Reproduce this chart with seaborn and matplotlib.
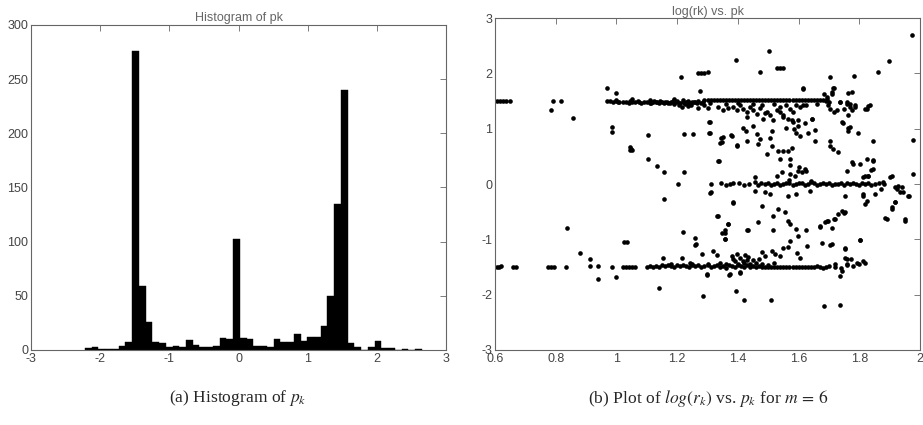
import numpy as np
import pandas as pd
import seaborn as sns
import matplotlib.pyplot as plt
from matplotlib.ticker import FuncFormatter

# ---- histogram of pk (50 bins) ----
hist_lo, hist_hi, n_bins = -2.22, 2.65, 50
hist_counts = [2, 3, 1, 1, 1, 4, 7, 276, 59, 26,
               7, 6, 3, 4, 3, 9, 5, 3, 3, 4,
               11, 10, 102, 11, 10, 4, 4, 3, 10, 7,
               7, 15, 8, 12, 12, 22, 50, 135, 240, 6,
               3, 0, 3, 8, 2, 2, 0, 1, 0, 1]

# ---- log(rk) vs pk ----
# upper band near 1.5
hi_band_x = [0.97, 0.98, 0.99, 1.00, 1.01, 1.02, 1.03, 1.04, 1.05, 1.06, 1.07, 1.08,
             1.09, 1.10, 1.11, 1.12, 1.13, 1.14, 1.15, 1.16, 1.17, 1.18, 1.19, 1.20,
             1.21, 1.22, 1.23, 1.24, 1.25, 1.26, 1.27, 1.28, 1.29, 1.30, 1.31, 1.32,
             1.33, 1.34, 1.35, 1.36, 1.37, 1.38, 1.39, 1.40, 1.41, 1.42, 1.43, 1.44,
             1.45, 1.46, 1.47, 1.48, 1.49, 1.50, 1.51, 1.52, 1.53, 1.54, 1.55, 1.56,
             1.57, 1.58, 1.59, 1.60, 1.61, 1.62, 1.63, 1.64, 1.65, 1.66, 1.67, 1.68,
             1.69, 1.70]
hi_band_y = [1.50, 1.50, 1.49, 1.50, 1.49, 1.48, 1.49, 1.47, 1.49, 1.48, 1.50, 1.47,
             1.48, 1.49, 1.47, 1.48, 1.49, 1.47, 1.48, 1.49, 1.46, 1.48, 1.45, 1.50,
             1.47, 1.49, 1.48, 1.47, 1.49, 1.48, 1.50, 1.46, 1.51, 1.51, 1.51, 1.51,
             1.51, 1.51, 1.51, 1.51, 1.51, 1.51, 1.51, 1.51, 1.51, 1.51, 1.51, 1.51,
             1.51, 1.51, 1.51, 1.51, 1.51, 1.51, 1.51, 1.51, 1.51, 1.51, 1.51, 1.51,
             1.51, 1.51, 1.51, 1.51, 1.51, 1.51, 1.51, 1.51, 1.51, 1.51, 1.51, 1.51,
             1.50, 1.49]
hi_extra = [(1.005, 1.49), (1.045, 1.50), (1.075, 1.49), (1.115, 1.47), (1.125, 1.50),
            (1.135, 1.48), (1.145, 1.50), (1.155, 1.47), (1.165, 1.49), (1.175, 1.47),
            (1.185, 1.50), (1.195, 1.48), (1.205, 1.46), (1.225, 1.47), (1.235, 1.50),
            (1.245, 1.46), (1.255, 1.48), (1.265, 1.47), (1.285, 1.49), (1.205, 1.42),
            (1.215, 1.40), (1.225, 1.44), (1.235, 1.41), (1.245, 1.43), (1.27, 1.38),
            (1.29, 1.42), (1.30, 1.37), (1.22, 1.52), (1.19, 1.53), (1.11, 1.52),
            (1.05, 1.53), (1.00, 1.52), (0.605, 1.50), (0.615, 1.50), (0.625, 1.50),
            (0.635, 1.50), (0.65, 1.50), (0.792, 1.50), (0.817, 1.50), (0.783, 1.33),
            (0.858, 1.19)]

# cloud below the upper band and the top outliers
upper_cloud = [(1.308, 1.47), (1.335, 1.39), (1.352, 1.34), (1.368, 1.37), (1.385, 1.40),
               (1.396, 1.33), (1.407, 1.43), (1.418, 1.36), (1.429, 1.30), (1.44, 1.39),
               (1.451, 1.34), (1.462, 1.27), (1.473, 1.37), (1.484, 1.18), (1.495, 1.31),
               (1.506, 1.24), (1.517, 1.15), (1.528, 1.34), (1.538, 1.30), (1.55, 1.22),
               (1.56, 1.42), (1.571, 1.36), (1.566, 1.18), (1.582, 1.12), (1.593, 1.42),
               (1.604, 1.39), (1.615, 1.43), (1.626, 1.42), (1.599, 1.05), (1.593, 0.93),
               (1.643, 1.18), (1.659, 1.45), (1.692, 1.54), (1.709, 1.66), (1.714, 1.73),
               (1.698, 1.42), (1.725, 1.34), (1.736, 1.48), (1.758, 1.49), (1.769, 1.39),
               (1.775, 1.66), (1.786, 1.42), (1.824, 1.36), (1.835, 1.42), (1.747, 1.11),
               (1.764, 1.02), (1.764, 0.96), (1.796, 0.93), (1.846, 0.78), (1.308, 1.13),
               (1.308, 0.93), (1.418, 1.01), (1.451, 1.05), (1.462, 0.90), (1.511, 0.96),
               (1.506, 0.84), (1.56, 1.02), (1.577, 1.15), (1.604, 0.87), (1.632, 0.93),
               (1.654, 0.98), (1.615, 1.72), (1.346, 0.84), (1.379, 0.87), (1.429, 0.78),
               (1.473, 0.81), (1.654, 0.78), (1.703, 0.78), (1.427, 0.96), (1.585, 1.00),
               (1.36, 1.45), (1.40, 1.46), (1.45, 1.45), (1.48, 1.43), (1.52, 1.45),
               (1.54, 1.40), (1.58, 1.30), (1.62, 1.10), (1.49, 1.28), (1.43, 1.22),
               (1.973, 2.70), (1.504, 2.41), (1.393, 2.24), (1.898, 2.23), (1.53, 2.09),
               (1.54, 2.09), (1.55, 2.10), (1.473, 2.02), (1.863, 2.03), (1.27, 2.00),
               (1.28, 2.00), (1.29, 2.01), (1.30, 2.02), (1.213, 1.94), (1.704, 1.93),
               (1.784, 1.95), (0.97, 1.74), (0.999, 1.65), (1.275, 1.68), (1.616, 1.73),
               (1.717, 1.73), (1.682, 1.62), (1.764, 1.65), (1.709, 1.63), (1.693, 1.57),
               (1.737, 1.48), (1.759, 1.45), (1.77, 1.45), (1.786, 1.39), (1.819, 1.36),
               (1.83, 1.41), (1.748, 1.36), (1.775, 1.33), (1.704, 1.36), (1.715, 1.30),
               (1.742, 1.12), (1.764, 1.24), (1.77, 1.03), (1.643, 1.18), (1.599, 1.15),
               (1.55, 1.24), (0.984, 1.03), (0.984, 0.94), (1.105, 0.88), (1.222, 0.91),
               (1.253, 0.90), (1.306, 0.92), (1.306, 1.12), (1.347, 0.76), (1.352, 0.85),
               (1.377, 0.88), (1.396, 0.70), (1.978, 0.79)]

# middle band near 0
mid_band_x = [1.31, 1.345, 1.36, 1.375, 1.385, 1.405, 1.42, 1.435, 1.455, 1.465,
              1.475, 1.49, 1.50, 1.51, 1.52, 1.53, 1.54, 1.55, 1.56, 1.57, 1.58,
              1.59, 1.60, 1.61, 1.62, 1.63, 1.64, 1.65, 1.66, 1.67, 1.68, 1.69,
              1.70, 1.71, 1.72, 1.73, 1.74, 1.75, 1.76, 1.77, 1.78, 1.79, 1.80,
              1.81, 1.82, 1.83, 1.84, 1.85, 1.865, 1.88]
mid_band_y = [0.00, 0.01, -0.01, 0.00, 0.02, 0.01, -0.02, 0.00, 0.03, -0.02,
              0.01, 0.00, 0.02, -0.01, 0.00, 0.01, -0.02, 0.00, 0.02, 0.01, -0.01,
              0.00, 0.01, 0.02, -0.01, 0.00, 0.03, 0.01, -0.02, 0.00, 0.02, 0.00,
              0.01, -0.01, 0.00, 0.00, 0.02, -0.01, 0.01, 0.00, 0.02, 0.00, -0.01,
              0.01, 0.00, 0.02, -0.02, 0.00, 0.01, 0.00]
middle_cloud = [(1.341, 0.75), (1.396, 0.69), (1.467, 0.72), (1.511, 0.69), (1.495, 0.55),
                (1.533, 0.60), (1.549, 0.59), (1.566, 0.60), (1.577, 0.66), (1.538, 0.45),
                (1.571, 0.35), (1.571, 0.45), (1.544, 0.21), (1.528, 0.15), (1.571, 0.18),
                (1.588, 0.15), (1.599, 0.24), (1.61, 0.21), (1.626, 0.23), (1.703, 0.69),
                (1.714, 0.63), (1.731, 0.57), (1.758, 0.24), (1.775, 0.39), (1.802, 0.36),
                (1.824, 0.45), (1.846, 0.42), (1.829, 0.15), (1.813, 0.12), (1.84, 0.25),
                (1.335, 0.42), (1.313, -0.15), (1.456, 0.12), (1.456, -0.12), (1.489, -0.15),
                (1.506, -0.18), (1.566, -0.21), (1.637, -0.12), (1.753, -0.21), (1.813, -0.21),
                (1.824, -0.30), (1.818, -0.36), (1.851, -0.18), (1.873, -0.09), (1.906, 0.15),
                (1.917, -0.06), (1.928, -0.03), (1.945, -0.15), (1.961, -0.21), (1.978, 0.18),
                (1.917, -0.33), (1.906, -0.42), (1.385, -0.33), (1.478, -0.39), (1.533, -0.45),
                (1.555, -0.51), (1.517, -0.57), (1.566, -0.66), (1.571, -0.72), (1.593, -0.81),
                (1.626, -0.84), (1.742, -0.48), (1.753, -0.51), (1.72, -0.63), (1.698, -0.66),
                (1.687, -0.69), (1.67, -0.75), (1.89, -0.63), (1.95, -0.66), (1.335, -0.57),
                (1.368, -0.72), (1.357, -0.84), (1.434, -0.84), (1.467, -0.69), (1.517, -0.84),
                (1.135, 0.32), (1.155, 0.21), (1.222, 0.21), (1.204, 0.00), (1.157, -0.27),
                (1.105, 0.45), (1.339, 0.42), (1.308, -0.16), (1.385, -0.35), (1.043, 0.67),
                (1.047, 0.64), (1.05, 0.62), (1.045, 0.61), (1.962, -0.21), (1.951, -0.64),
                (1.885, -0.62), (1.907, -0.45), (1.918, -0.33), (1.901, 0.12), (1.879, 0.03),
                (1.923, -0.09), (1.94, -0.06), (1.934, -0.15), (1.846, 0.44), (1.846, 0.27),
                (1.78, 0.36), (1.818, 0.15), (1.83, 0.15), (1.813, -0.18), (1.748, -0.52),
                (1.731, -0.55), (1.693, -0.67), (1.671, -0.78), (1.709, -0.79), (1.715, -0.64),
                (1.60, 0.30), (1.62, 0.28), (1.59, -0.18), (1.64, 0.05), (1.57, 0.08)]

# lower band near -1.5
lo_band_x = [1.10, 1.11, 1.12, 1.13, 1.14, 1.15, 1.16, 1.17, 1.18, 1.19, 1.20, 1.21,
             1.22, 1.23, 1.24, 1.25, 1.26, 1.27, 1.28, 1.29, 1.30, 1.31, 1.32, 1.33,
             1.34, 1.35, 1.36, 1.37, 1.38, 1.39, 1.40, 1.41, 1.42, 1.43, 1.44, 1.45,
             1.46, 1.47, 1.48, 1.49, 1.50, 1.51, 1.52, 1.53, 1.54, 1.55, 1.56, 1.57,
             1.58, 1.59, 1.60, 1.61, 1.62, 1.63, 1.64, 1.65, 1.66, 1.67, 1.68, 1.69,
             1.70, 1.72, 1.74, 1.76, 1.78, 1.80, 1.82]
lo_band_y = [-1.50, -1.49, -1.50, -1.48, -1.50, -1.47, -1.49, -1.46, -1.48, -1.50, -1.47, -1.49,
             -1.46, -1.48, -1.50, -1.47, -1.49, -1.46, -1.50, -1.48, -1.47, -1.50, -1.49, -1.46,
             -1.50, -1.48, -1.51, -1.47, -1.49, -1.50, -1.46, -1.49, -1.50, -1.47, -1.50, -1.48,
             -1.50, -1.49, -1.50, -1.50, -1.50, -1.50, -1.50, -1.50, -1.50, -1.50, -1.50, -1.50,
             -1.50, -1.50, -1.50, -1.50, -1.50, -1.50, -1.50, -1.50, -1.49, -1.50, -1.51, -1.50,
             -1.49, -1.50, -1.52, -1.47, -1.48, -1.44, -1.42]
lower_cloud = [(0.605, -1.50), (0.612, -1.50), (0.62, -1.49), (0.66, -1.50), (0.67, -1.50),
               (0.775, -1.50), (0.785, -1.50), (0.795, -1.50), (0.834, -1.50), (0.913, -1.48),
               (0.94, -1.48), (0.987, -1.50), (1.02, -1.50), (1.03, -1.50), (1.04, -1.50),
               (1.05, -1.50), (1.06, -1.50), (0.836, -0.79), (1.026, -1.04), (1.034, -1.04),
               (0.88, -1.25), (0.913, -1.36), (0.94, -1.71), (0.998, -1.68), (1.14, -1.88),
               (1.284, -2.03), (1.297, -1.65), (1.394, -1.94), (1.42, -2.09), (1.508, -2.09),
               (1.682, -2.21), (1.737, -2.18), (1.737, -1.67), (1.372, -1.64), (1.408, -1.59),
               (1.259, -0.97), (1.259, -1.10), (1.358, -1.00), (1.358, -0.88), (1.281, -1.26),
               (1.319, -1.21), (1.33, -1.28), (1.38, -1.30), (1.396, -1.27), (1.407, -1.33),
               (1.423, -1.28), (1.434, -1.32), (1.385, -1.36), (1.418, -1.39), (1.451, -1.38),
               (1.478, -1.22), (1.489, -1.30), (1.511, -1.21), (1.522, -1.27), (1.539, -1.30),
               (1.55, -1.15), (1.566, -1.13), (1.572, -1.03), (1.599, -0.94), (1.594, -1.24),
               (1.605, -1.33), (1.627, -1.12), (1.676, -1.07), (1.703, -1.10), (1.753, -1.18),
               (1.753, -1.33), (1.802, -1.01), (1.72, -1.45), (1.758, -1.45), (1.791, -1.42),
               (1.813, -1.39), (1.742, -1.57), (1.407, -1.60), (1.374, -1.63), (1.297, -1.63),
               (1.154, -1.33), (1.215, -1.33), (1.242, -1.42), (1.22, -0.87), (1.262, -1.09),
               (1.33, -0.58), (1.347, -0.88), (1.358, -1.00), (1.369, -0.72), (1.431, -0.84),
               (1.709, -1.09), (1.772, -1.35), (1.759, -1.36), (1.802, -1.02), (1.753, -1.16),
               (1.40, -1.44), (1.42, -1.43), (1.44, -1.45), (1.36, -1.44), (1.46, -1.42),
               (1.48, -1.44), (1.50, -1.46), (1.52, -1.43), (1.34, -1.42), (1.30, -1.45),
               (1.25, -1.44), (1.18, -1.44), (1.43, -1.38), (1.39, -1.40), (1.47, -1.35)]

pts_x = hi_band_x + mid_band_x + lo_band_x
pts_y = hi_band_y + mid_band_y + lo_band_y
for grp in (hi_extra, upper_cloud, middle_cloud, lower_cloud):
    pts_x += [p[0] for p in grp]
    pts_y += [p[1] for p in grp]
scatter_df = pd.DataFrame({"pk": pts_x, "logrk": pts_y})

edges = np.linspace(hist_lo, hist_hi, n_bins + 1)
hist_df = pd.DataFrame({"pk": (edges[:-1] + edges[1:]) / 2, "count": hist_counts})

sns.set_style("white")
plt.rcParams["font.family"] = ["Liberation Sans", "DejaVu Sans"]
plt.rcParams["mathtext.fontset"] = "stix"

fig = plt.figure(figsize=(9.23, 4.25), dpi=100)
ax1 = fig.add_axes([0.0336, 0.1765, 0.4496, 0.765])
ax2 = fig.add_axes([0.5363, 0.1765, 0.4605, 0.781])

sns.histplot(data=hist_df, x="pk", weights="count", bins=edges.tolist(),
             color="black", edgecolor="black", linewidth=0.3, alpha=1, ax=ax1)
sns.scatterplot(data=scatter_df, x="pk", y="logrk", color="black", s=11,
                linewidth=0, ax=ax2)

fmt = FuncFormatter(lambda v, pos: "%g" % v)
for ax in (ax1, ax2):
    ax.set_xlabel("")
    ax.set_ylabel("")
    ax.tick_params(direction="in", top=True, right=True, length=4, width=0.6,
                   colors="#666666", labelcolor="#444444", labelsize=9, pad=2)
    for sp in ax.spines.values():
        sp.set_color("#666666")
        sp.set_linewidth(0.8)
    ax.xaxis.set_major_formatter(fmt)
    ax.yaxis.set_major_formatter(fmt)

ax1.set_xlim(-3, 3)
ax1.set_ylim(0, 300)
ax1.set_xticks(range(-3, 4))
ax1.set_yticks(range(0, 301, 50))
ax1.set_title("Histogram of pk", fontsize=9, color="#666666", pad=3)

ax2.set_xlim(0.6, 2.0)
ax2.set_ylim(-3, 3)
ax2.set_xticks([0.6, 0.8, 1.0, 1.2, 1.4, 1.6, 1.8, 2.0])
ax2.set_yticks(range(-3, 4))
ax2.set_title("log(rk) vs. pk", fontsize=9, color="#666666", pad=2)

cap = dict(fontsize=12.6, family="Liberation Serif", ha="center", va="center")
fig.text(0.258, 0.063, r"(a) Histogram of $p_k$", **cap)
fig.text(0.767, 0.063, r"(b) Plot of $log(r_k)$ vs. $p_k$ for $m\,=\,6$", **cap)

fig.savefig("out.png", dpi=100)
